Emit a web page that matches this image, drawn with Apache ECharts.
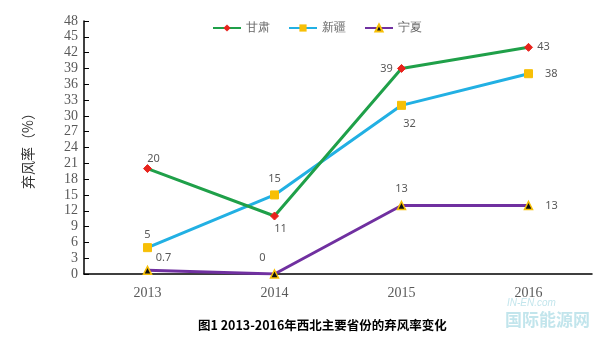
<!DOCTYPE html>
<html><head><meta charset="utf-8">
<script src="https://cdn.jsdelivr.net/npm/echarts@6/dist/echarts.min.js"></script>
<style>html,body{margin:0;padding:0;background:#fff}#c{width:600px;height:339px}</style>
</head><body><div id="c"></div>
<script>
const categories = ['2013', '2014', '2015', '2016'];
const gansu = [20, 11, 39, 43];
const xinjiang = [5, 15, 32, 38];
const ningxia = [0.7, 0, 13, 13];
const seriesNames = ['甘肃', '新疆', '宁夏'];
const yTicks = [0, 48, 3];

const labelBase = { show: true, color: '#595959', fontSize: 11, fontFamily: 'Noto Sans, sans-serif' };
const serif = "'Liberation Serif', 'Times New Roman', serif";

const chart = echarts.init(document.getElementById('c'));
chart.setOption({
  animation: false,
  grid: { left: 84, right: 8, top: 21, bottom: 65 },
  legend: {
    top: 17, left: 207, itemWidth: 28, itemHeight: 9, itemGap: 18,
    textStyle: { color: '#666', fontSize: 12 },
    data: seriesNames
  },
  title: {
    text: '图1 2013-2016年西北主要省份的弃风率变化',
    left: 193, top: 314,
    textStyle: { fontSize: 12.5, fontWeight: 'bold', color: '#000', fontFamily: "'Noto Sans CJK SC', sans-serif" }
  },
  xAxis: {
    type: 'category', data: categories, boundaryGap: true,
    axisLine: { lineStyle: { color: '#000', width: 1.5 } },
    axisTick: { show: false },
    axisLabel: { color: '#595959', fontSize: 14, fontFamily: serif, margin: 12 }
  },
  yAxis: {
    type: 'value', min: yTicks[0], max: yTicks[1], interval: yTicks[2],
    name: '弃风率（%）', nameLocation: 'middle', nameGap: 49, nameRotate: 90,
    nameTextStyle: { color: '#333', fontSize: 14, fontFamily: "'Noto Sans CJK SC', serif" },
    axisLine: { show: true, lineStyle: { color: '#000', width: 1.5 } },
    axisTick: { show: true, inside: true, length: 5, lineStyle: { color: '#000', width: 1 } },
    splitLine: { show: false },
    axisLabel: { color: '#595959', fontSize: 14, fontFamily: serif, margin: 6 }
  },
  graphic: [{
    type: 'text', left: 507, top: 298,
    style: { text: 'IN-EN.com', fill: 'rgba(80,180,200,0.35)', font: 'italic 10px sans-serif' }
  }, {
    type: 'text', left: 505, top: 311,
    style: { text: '国际能源网', fill: 'rgba(80,180,200,0.35)', font: "bold 17px 'Noto Sans CJK SC'" }
  }],
  series: [
    {
      name: seriesNames[0], type: 'line',
      data: gansu.map((v, i) => ({ value: v, label: { offset: [[6, -10], [6, 13], [-15, 0], [15, 0]][i] } })),
      symbol: 'diamond', symbolSize: 8,
      lineStyle: { color: '#1fa049', width: 3 },
      itemStyle: { color: '#e8231c', borderColor: '#e8231c' },
      label: Object.assign({}, labelBase, { position: 'inside' }),
      z: 3
    },
    {
      name: seriesNames[1], type: 'line',
      data: xinjiang.map((v, i) => ({ value: v, label: { position: ['top', 'top', 'bottom', 'right'][i], offset: [[0, 3], [0, 0], [8, 3], [6, 0]][i] } })),
      symbol: 'rect', symbolSize: 8,
      lineStyle: { color: '#22b0e3', width: 3 },
      itemStyle: { color: '#f7bf06', borderColor: '#f7bf06' },
      label: Object.assign({}, labelBase, { distance: 6 }),
      z: 2
    },
    {
      name: seriesNames[2], type: 'line',
      data: ningxia.map((v, i) => ({ value: v, label: { position: ['top', 'top', 'top', 'right'][i], offset: [[16, 4], [-12, 0], [0, 0], [6, 0]][i] } })),
      symbol: 'triangle', symbolSize: 8,
      lineStyle: { color: '#7030a0', width: 3 },
      itemStyle: { color: '#111', borderColor: '#f7bf06', borderWidth: 1.5 },
      label: Object.assign({}, labelBase, { distance: 6 }),
      z: 1
    }
  ]
});
</script></body></html>
